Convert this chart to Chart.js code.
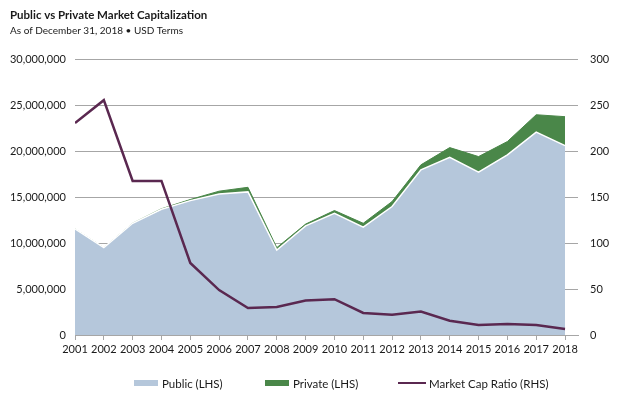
<!DOCTYPE html>
<html>
<head>
<meta charset="utf-8">
<script src="https://cdn.jsdelivr.net/npm/chart.js@4"></script>
<style>
  body { margin: 0; background: #fff; }
  #wrap { position: relative; width: 636px; height: 396px; }
  #legend { position: absolute; top: 375px; left: 0; width: 636px; height: 16px;
            font: 11.5px Lato, sans-serif; color: #1a1a1a; }
  .item { position: absolute; top: 0; display: flex; align-items: center; height: 16px; }
  .sw { display: inline-block; margin-right: 4px; }
</style>
</head>
<body>
<div id="wrap">
  <canvas id="graph-main" width="636" height="396"></canvas>
  <div id="legend"></div>
</div>
<script>
const years = [2001, 2002, 2003, 2004, 2005, 2006, 2007, 2008, 2009, 2010, 2011, 2012, 2013, 2014, 2015, 2016, 2017, 2018];
// USD, left axis
const public_cap = [11560000, 9520000, 12180000, 13710000, 14650000, 15380000, 15600000, 9270000, 11890000, 13270000, 11750000, 14000000, 18000000, 19380000, 17750000, 19640000, 22110000, 20650000];
const private_cap = [0, 0, 0, 50000, 120000, 300000, 500000, 250000, 200000, 300000, 430000, 550000, 550000, 1050000, 1700000, 1450000, 1900000, 3150000];
// right axis
const cap_ratio = [231, 256, 168, 168, 78.5, 49, 29.5, 30.5, 37.5, 39, 24, 22, 25.5, 15.6, 11, 12, 11, 6.5];
const left_ticks = [0, 5000000, 10000000, 15000000, 20000000, 25000000, 30000000];
const right_ticks = [0, 50, 100, 150, 200, 250, 300];

const legend_items = [
    {label: 'Public (LHS)', color: '#b5c7db', kind: 'box', left: 134},
    {label: 'Private (LHS)', color: '#4a8749', kind: 'box', left: 265},
    {label: 'Market Cap Ratio (RHS)', color: '#5a2850', kind: 'line', left: 398}
];

function pts(vals) {
    return years.map((y, i) => ({x: y, y: vals[i]}));
}

const tick_font = {family: 'Lato, sans-serif', size: 11};
const grid_col = '#a6a6a6';

const chart_obj = {
    type: 'line',
    data: {
        datasets: [{
            label: 'Public (LHS)',
            data: pts(public_cap),
            yAxisID: 'y',
            backgroundColor: '#b5c7db',
            borderColor: '#ffffff',
            borderWidth: 1.5,
            pointRadius: 0,
            fill: 'origin',
            order: 1
        }, {
            label: 'Private (LHS)',
            data: pts(private_cap),
            yAxisID: 'y',
            backgroundColor: '#4a8749',
            borderColor: '#4a8749',
            borderWidth: 1,
            pointRadius: 0,
            fill: '-1',
            order: 2
        }, {
            label: 'Market Cap Ratio (RHS)',
            data: pts(cap_ratio),
            yAxisID: 'y1',
            borderColor: '#5a2850',
            backgroundColor: '#5a2850',
            borderWidth: 2.5,
            pointRadius: 0,
            fill: false,
            order: 0
        }]
    },
    options: {
        responsive: false,
        animation: false,
        layout: {padding: {left: 10, right: 0, top: 4, bottom: 39}},
        plugins: {
            legend: {display: false},
            tooltip: {enabled: false},
            title: {
                display: true,
                text: 'Public vs Private Market Capitalization',
                align: 'start',
                color: '#1a1a1a',
                font: {family: 'Lato, sans-serif', size: 11.5, weight: 'bold', lineHeight: 1.2},
                padding: {top: 4, bottom: 2}
            },
            subtitle: {
                display: true,
                text: 'As of December 31, 2018 \u2022 USD Terms',
                align: 'start',
                color: '#1a1a1a',
                font: {family: 'Lato, sans-serif', size: 10, lineHeight: 1.2},
                padding: {top: 1, bottom: 23}
            }
        },
        scales: {
            x: {
                type: 'linear',
                min: 2001,
                max: 2018.45,
                offset: false,
                afterFit: (s) => { s.height = 22; },
                ticks: {
                    stepSize: 1,
                    includeBounds: false,
                    autoSkip: false,
                    maxRotation: 0,
                    color: '#1a1a1a',
                    font: tick_font,
                    padding: 3,
                    callback: (v) => (v <= 2018 ? String(v) : '')
                },
                grid: {drawOnChartArea: false, drawTicks: true, tickLength: 5, color: grid_col},
                border: {color: grid_col}
            },
            y: {
                position: 'left',
                stacked: true,
                min: 0,
                max: 30000000,
                afterBuildTicks: (s) => { s.ticks = left_ticks.map(v => ({value: v})); },
                afterFit: (s) => { s.width = 65; },
                ticks: {
                    color: '#1a1a1a',
                    font: tick_font,
                    padding: 9,
                    callback: (v) => v.toLocaleString('en-US')
                },
                grid: {color: grid_col, drawTicks: false},
                border: {display: false}
            },
            y1: {
                position: 'right',
                min: 0,
                max: 300,
                afterBuildTicks: (s) => { s.ticks = right_ticks.map(v => ({value: v})); },
                afterFit: (s) => { s.width = 58; },
                ticks: {color: '#1a1a1a', font: tick_font, padding: 12},
                grid: {display: false, drawTicks: false},
                border: {display: false}
            }
        }
    }
};

function draw() {
    const ctx = document.getElementById('graph-main').getContext('2d');
    const my_chart = new Chart(ctx, chart_obj);

    const lg = document.getElementById('legend');
    for (let it of legend_items) {
        const sw = it.kind === 'box'
            ? `<span class="sw" style="width:24px;height:6px;background:${it.color}"></span>`
            : `<span class="sw" style="width:28px;height:2.5px;background:${it.color};margin-right:3px"></span>`;
        lg.innerHTML += `<div class="item" style="left:${it.left}px">${sw}<span>${it.label}</span></div>`;
    }
}

Promise.all([
    document.fonts.load('11px Lato'),
    document.fonts.load('bold 11.5px Lato')
]).then(draw, draw);
</script>
</body>
</html>
